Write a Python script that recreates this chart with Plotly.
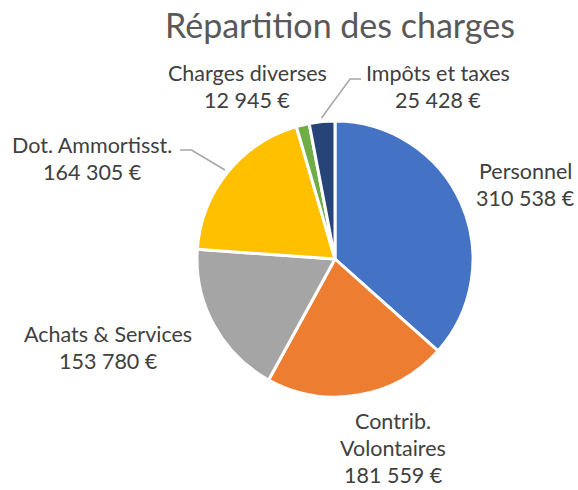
import plotly.graph_objects as go

categories = ["Personnel", "Contrib. Volontaires", "Achats & Services",
              "Dot. Ammortisst.", "Charges diverses", "Impôts et taxes"]
label_lines = [["Personnel"], ["Contrib.", "Volontaires"], ["Achats & Services"],
               ["Dot. Ammortisst."], ["Charges diverses"], ["Impôts et taxes"]]
values = [310538, 181559, 153780, 164305, 12945, 25428]
colors = ["#4472C4", "#ED7D31", "#A5A5A5", "#FFC000", "#70AD47", "#264478"]
title = "Répartition des charges"

W, H = 578, 490

def px(x):
    return x / W

def py(y):
    return 1 - y / H

def fmt(v):
    return f"{v:,}".replace(",", " ") + " €"

# label anchor (center x, first line center y, line spacing) in pixels
label_pos = [(525, 171, 27), (393, 421, 27), (108, 334, 27), (92, 145, 27),
             (247, 73, 27), (438, 73, 27)]

cx, cy, r = 335, 259, 138

fig = go.Figure(go.Pie(
    labels=categories, values=values, sort=False, direction="clockwise",
    rotation=0, textinfo="none", hoverinfo="label+value",
    marker=dict(colors=colors, line=dict(color="white", width=3)),
    domain=dict(x=[px(cx - r), px(cx + r)], y=[py(cy + r), py(cy - r)]),
    showlegend=False,
))

font = dict(family="Lato, Calibri, sans-serif", size=21.5, color="#404040")
ann = []
for lines, v, (x, y, lh) in zip(label_lines, values, label_pos):
    allines = lines + [fmt(v)]
    for i, t in enumerate(allines):
        ann.append(dict(x=px(x), y=py(y + i * lh), xref="paper", yref="paper",
                        text=t, showarrow=False, xanchor="center", yanchor="middle",
                        font=font))
ann.append(dict(x=px(340), y=py(24), xref="paper", yref="paper", text=title,
                showarrow=False, xanchor="center", yanchor="middle",
                font=dict(family="Lato, Calibri, sans-serif", size=34, color="#595959")))

leader = dict(color="#A6A6A6", width=1.5)
shapes = [
    dict(type="path", xref="paper", yref="paper",
         path=f"M {px(361)} {py(79)} L {px(350)} {py(79)} L {px(321.5)} {py(118)}",
         line=leader),
    dict(type="path", xref="paper", yref="paper",
         path=f"M {px(180)} {py(150)} L {px(191.5)} {py(150)} L {px(225)} {py(170)}",
         line=leader),
]

fig.update_layout(width=W, height=H, margin=dict(l=0, r=0, t=0, b=0),
                  paper_bgcolor="white", plot_bgcolor="white",
                  annotations=ann, shapes=shapes)
fig.write_html("out.html", config={"displayModeBar": False},
               post_script="document.body.style.margin='0';document.body.style.overflow='hidden';")
